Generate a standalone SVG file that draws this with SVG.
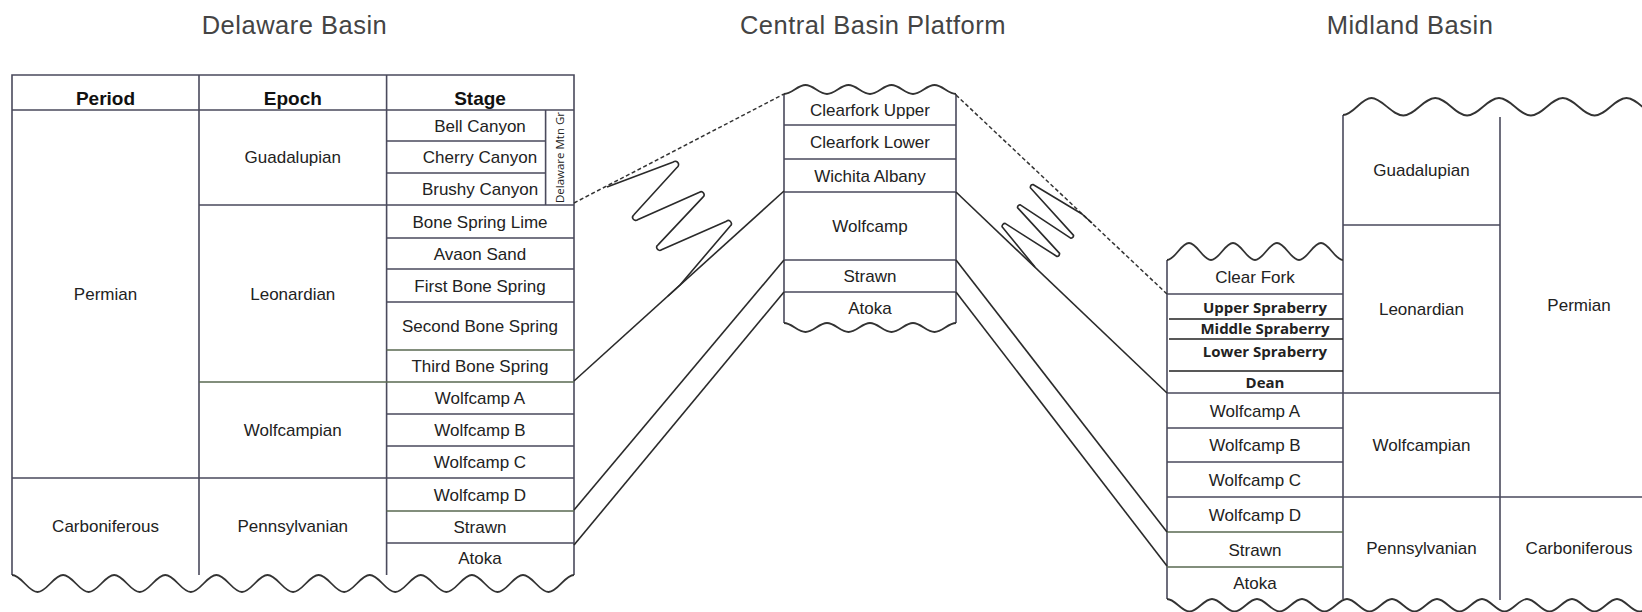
<svg xmlns="http://www.w3.org/2000/svg" width="1642" height="612" viewBox="0 0 1642 612">
<style>
.t{font-family:"Liberation Sans",Arial,sans-serif;font-size:17px;fill:#222;text-anchor:middle}
.h{font-weight:bold;font-size:19px;fill:#111}
.ti{font-size:25.5px;fill:#444;letter-spacing:0.5px}
.c{font-family:"Open Sans","Liberation Sans",sans-serif;font-weight:bold;font-size:15px;fill:#222;text-anchor:middle}
.v{font-family:"Open Sans","Liberation Sans",sans-serif;font-size:11.5px;fill:#222;text-anchor:middle}
.ln{stroke:#4a4a5c;stroke-width:1.6;fill:none}
.gr{stroke:#5a6a52;stroke-width:1.6;fill:none}
.bk{stroke:#222;stroke-width:1.4;fill:none}
.wv{stroke:#333;stroke-width:1.8;fill:none}
.cn{stroke:#2a2a2a;stroke-width:1.6;fill:none;stroke-linejoin:round}
.ds{stroke:#333;stroke-width:1.5;fill:none;stroke-dasharray:4 2.5}
</style>
<rect width="1642" height="612" fill="#fff"/>

<g id="titles">
<text class="t ti" x="294.5" y="34">Delaware Basin</text>
<text class="t ti" x="873" y="34">Central Basin Platform</text>
<text class="t ti" x="1410" y="34">Midland Basin</text>
</g>

<g id="delaware-basin">
<path class="ln" d="M12,575 V75 H574 V575 M199,75 V575 M386.6,75 V575 M12,110 H574 M545.6,110 V205 M386.6,141 H545.6 M386.6,173 H545.6 M199,205 H574 M386.6,238 H574 M386.6,269 H574 M386.6,302 H574 M386.6,414 H574 M386.6,446 H574 M12,478 H574 M386.6,543 H574"/>
<path class="gr" d="M386.6,350 H574 M199,382 H574 M386.6,511 H574"/>
<path class="wv" d="M12,575 C21.2,575 28.35,592 37.55,592 S53.9,575 63.1,575 S79.45,592 88.65,592 S105,575 114.2,575 S130.55,592 139.75,592 S156.1,575 165.3,575 S181.65,592 190.85,592 S207.2,575 216.4,575 S232.75,592 241.95,592 S258.3,575 267.5,575 S283.85,592 293.05,592 S309.4,575 318.6,575 S334.95,592 344.15,592 S360.5,575 369.7,575 S386.05,592 395.25,592 S411.6,575 420.8,575 S437.15,592 446.35,592 S462.7,575 471.9,575 S488.25,592 497.45,592 S513.8,575 523,575 S539.35,592 548.55,592 S564.9,575 574,575"/>
<text class="t h" x="105.5" y="105">Period</text>
<text class="t h" x="292.8" y="105">Epoch</text>
<text class="t h" x="480" y="105">Stage</text>
<text class="t" x="105.5" y="300">Permian</text>
<text class="t" x="105.5" y="532">Carboniferous</text>
<text class="t" x="292.8" y="163">Guadalupian</text>
<text class="t" x="292.8" y="299.5">Leonardian</text>
<text class="t" x="292.8" y="436">Wolfcampian</text>
<text class="t" x="292.8" y="532">Pennsylvanian</text>
<text class="t" x="480" y="131.5">Bell Canyon</text>
<text class="t" x="480" y="163">Cherry Canyon</text>
<text class="t" x="480" y="195">Brushy Canyon</text>
<text class="t" x="480" y="227.5">Bone Spring Lime</text>
<text class="t" x="480" y="259.5">Avaon Sand</text>
<text class="t" x="480" y="291.5">First Bone Spring</text>
<text class="t" x="480" y="332">Second Bone Spring</text>
<text class="t" x="480" y="372">Third Bone Spring</text>
<text class="t" x="480" y="404">Wolfcamp A</text>
<text class="t" x="480" y="436">Wolfcamp B</text>
<text class="t" x="480" y="468">Wolfcamp C</text>
<text class="t" x="480" y="500.5">Wolfcamp D</text>
<text class="t" x="480" y="533">Strawn</text>
<text class="t" x="480" y="564">Atoka</text>
<text class="v" transform="translate(563.8,157.5) rotate(-90)">Delaware Mtn Gr</text>
</g>

<g id="central-basin-platform">
<path class="ln" d="M784,94 V323 M956,94 V323 M784,125 H956 M784,159 H956 M784,192 H956 M784,260 H956 M784,292 H956"/>
<path class="wv" d="M784,94 C791.74,94 797.76,85 805.5,85 S819.26,94 827,94 S840.76,85 848.5,85 S862.26,94 870,94 S883.76,85 891.5,85 S905.26,94 913,94 S926.76,85 934.5,85 S948.26,94 956,94"/>
<path class="wv" d="M784,323 C791.74,323 797.76,332 805.5,332 S819.26,323 827,323 S840.76,332 848.5,332 S862.26,323 870,323 S883.76,332 891.5,332 S905.26,323 913,323 S926.76,332 934.5,332 S948.26,323 956,323"/>
<text class="t" x="870" y="116">Clearfork Upper</text>
<text class="t" x="870" y="148">Clearfork Lower</text>
<text class="t" x="870" y="181.5">Wichita Albany</text>
<text class="t" x="870" y="231.5">Wolfcamp</text>
<text class="t" x="870" y="281.5">Strawn</text>
<text class="t" x="870" y="314">Atoka</text>
</g>

<g id="midland-basin">
<path class="ln" d="M1167,260 V599 M1343,115 V599 M1500,117 V600 M1167,294 H1343 M1343,225 H1500 M1167,393 H1500 M1167,428 H1343 M1167,462 H1343 M1167,497 H1642"/>
<path class="bk" d="M1169,319 H1343 M1169,339 H1343 M1169,371 H1343"/>
<path class="gr" d="M1167,532 H1343 M1167,567 H1343"/>
<path class="wv" d="M1167,260 C1174.92,260 1181.08,243 1189,243 S1203.08,260 1211,260 S1225.08,243 1233,243 S1247.08,260 1255,260 S1269.08,243 1277,243 S1291.08,260 1299,260 S1313.08,243 1321,243 S1335.08,260 1343,260"/>
<path class="wv" d="M1343,115 C1353.3,115 1361.2,98 1371.5,98 S1391.9,115.5 1403.4,115.5 S1423.8,98 1435.3,98 S1455.6,115.5 1467.1,115.5 S1487.5,98 1499,98 S1519.4,115.5 1530.9,115.5 S1551.3,98 1562.8,98 S1583.1,115.5 1594.6,115.5 S1615,98 1626.5,98 S1646.9,115.5 1658.4,115.5"/>
<path class="wv" d="M1167,599 C1175.1,599 1181.4,611.5 1189.5,611.5 S1203.9,599 1212,599 S1226.4,611.5 1234.5,611.5 S1248.9,599 1257,599 S1271.4,611.5 1279.5,611.5 S1293.9,599 1302,599 S1316.4,611.5 1324.5,611.5 S1338.9,599 1347,599 S1361.4,611.5 1369.5,611.5 S1383.9,599 1392,599 S1406.4,611.5 1414.5,611.5 S1428.9,599 1437,599 S1451.4,611.5 1459.5,611.5 S1473.9,599 1482,599 S1496.4,611.5 1504.5,611.5 S1518.9,599 1527,599 S1541.4,611.5 1549.5,611.5 S1563.9,599 1572,599 S1586.4,611.5 1594.5,611.5 S1608.9,599 1617,599 S1631.4,611.5 1639.5,611.5 S1653.9,599 1662,599"/>
<text class="t" x="1255" y="283">Clear Fork</text>
<text class="c" x="1265" y="313">Upper Spraberry</text>
<text class="c" x="1265" y="334">Middle Spraberry</text>
<text class="c" x="1265" y="357">Lower Spraberry</text>
<text class="c" x="1265" y="388">Dean</text>
<text class="t" x="1255" y="416.5">Wolfcamp A</text>
<text class="t" x="1255" y="451">Wolfcamp B</text>
<text class="t" x="1255" y="485.5">Wolfcamp C</text>
<text class="t" x="1255" y="520.5">Wolfcamp D</text>
<text class="t" x="1255" y="555.5">Strawn</text>
<text class="t" x="1255" y="589">Atoka</text>
<text class="t" x="1421.5" y="176">Guadalupian</text>
<text class="t" x="1421.5" y="315">Leonardian</text>
<text class="t" x="1421.5" y="451">Wolfcampian</text>
<text class="t" x="1421.5" y="554">Pennsylvanian</text>
<text class="t" x="1579" y="311">Permian</text>
<text class="t" x="1579" y="554">Carboniferous</text>
</g>

<g id="connectors">
<path class="ds" d="M574,203 L784,94"/>
<path class="ds" d="M956,95 L1167,294"/>
<path class="cn" d="M574,381 L784,191"/>
<path class="cn" d="M574,510 L784,260"/>
<path class="cn" d="M574,545 L784,292"/>
<path class="cn" d="M956,192 L1167,393"/>
<path class="cn" d="M956,260 L1167,532"/>
<path class="cn" d="M956,292 L1167,566"/>
<path class="cn" d="M607,187 L673.39,161.92 A3,3 0 0 1 677.17,167.3 L633.9,214.79 A3,3 0 0 0 637.55,219.81 L699.5,192.25 A3,3 0 0 1 702.97,197.12 L658.03,244.88 A3,3 0 0 0 661.51,249.77 L726.46,221.2 A3,3 0 0 1 730.05,226.17 L680,285 L668,296"/>
<path class="cn" d="M1035,267 L1002.1,226.86 A3,3 0 0 1 1005.11,223.41 L1057,256.46 A3,3 0 0 0 1059.58,253.35 L1017.47,207.59 A3,3 0 0 1 1019.93,204.69 L1071.05,238.32 A3,3 0 0 0 1073.58,235.37 L1030.36,187.69 A3,3 0 0 1 1033.03,184.49 L1082,214 L1092,223"/>
</g>
</svg>
